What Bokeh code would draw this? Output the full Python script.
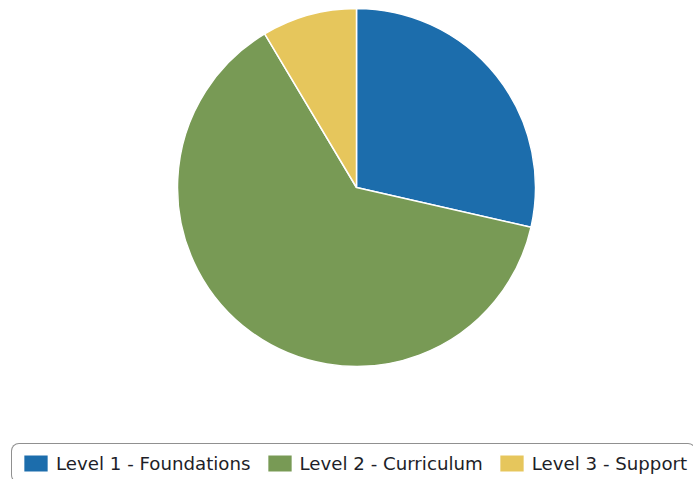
import math
from bokeh.plotting import figure
from bokeh.models import Range1d, Legend, LegendItem, ColumnDataSource
from bokeh.embed import file_html
from bokeh.resources import INLINE

categories = ["Level 1 - Foundations", "Level 2 - Curriculum", "Level 3 - Support"]
values = [10, 22, 3]
colors = ["#1c6dac", "#789a55", "#e6c65c"]

total = float(sum(values))
starts, ends = [], []
cum = 0.0
for v in values:
    prev = cum
    cum += v / total
    starts.append(math.pi / 2 - cum * 2 * math.pi)
    ends.append(math.pi / 2 - prev * 2 * math.pi)

W, H = 693, 479
p = figure(width=W, height=H, output_backend="svg", toolbar_location=None,
           x_range=Range1d(0, W), y_range=Range1d(0, H),
           min_border=0, min_border_left=0, min_border_right=0,
           min_border_top=0, min_border_bottom=0)
p.axis.visible = False
p.grid.visible = False
p.outline_line_color = None
p.background_fill_color = "white"

src = ColumnDataSource(dict(x=[356] * 3, y=[292] * 3, start=starts, end=ends,
                            color=colors, label=categories))
r = p.wedge(x="x", y="y", radius=179, start_angle="start", end_angle="end",
            direction="anticlock", fill_color="color", line_color="white",
            line_width=1.5, source=src)

items = [LegendItem(label=categories[i], renderers=[r], index=i) for i in range(3)]
legend = Legend(items=items, orientation="horizontal", location=(11, -4),
                glyph_width=31, glyph_height=22, label_standoff=5, spacing=13,
                padding=8, margin=0,
                label_text_font="DejaVu Sans", label_text_font_size="18.2px",
                label_text_color="#1e1e28",
                border_line_color="#222222", border_line_width=1,
                background_fill_color="white", background_fill_alpha=1)
if "border_radius" in Legend.properties():
    legend.border_radius = 8
p.add_layout(legend, "center")

open("out.html", "w").write(file_html(p, INLINE))
